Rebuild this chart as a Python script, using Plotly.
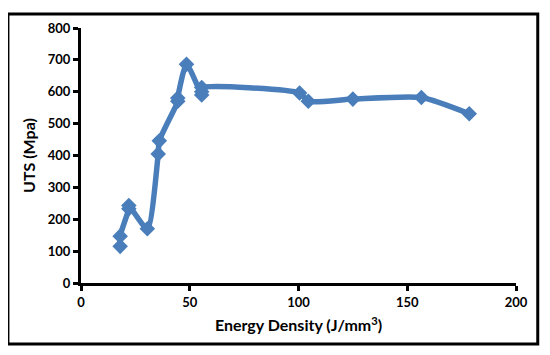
import plotly.graph_objects as go

energy_density = [18, 18, 22, 22, 30.5, 35.5, 36, 44.5, 44.5, 48.5, 55.5, 55.5, 55.5, 100.5, 104.5, 125, 156.5, 178.5]
uts = [115, 147, 233, 243, 170, 405, 446, 570, 580, 686, 590, 600, 613, 596, 570, 577, 582, 531]

x_ticks = [0, 50, 100, 150, 200]
y_ticks = [0, 100, 200, 300, 400, 500, 600, 700, 800]

blue = "#4A7EBB"
font_family = "Lato, 'Open Sans', sans-serif"

fig = go.Figure()
fig.add_trace(go.Scatter(
    x=energy_density, y=uts, mode="lines+markers",
    line=dict(color=blue, width=5.5, shape="spline", smoothing=0.6),
    marker=dict(symbol="diamond", size=12, color=blue),
    showlegend=False, cliponaxis=False,
))

axis_common = dict(
    showline=True, linecolor="black", linewidth=3, showgrid=False, zeroline=False,
    ticks="outside", ticklen=5, tickwidth=3, tickcolor="black",
    tickfont=dict(family=font_family, size=13, color="black", weight="bold"),
)

fig.update_xaxes(range=[0, 200], tickvals=x_ticks, **axis_common,
                 title=dict(text="Energy Density (J/mm<sup>3</sup>)",
                            font=dict(family=font_family, size=16, color="black", weight="bold"),
                            standoff=12))
fig.update_yaxes(range=[0, 800], tickvals=y_ticks, **axis_common,
                 title=dict(text="UTS (Mpa)",
                            font=dict(family=font_family, size=16, color="black", weight="bold"),
                            standoff=9))

fig.add_shape(type="rect", xref="paper", yref="paper",
              x0=-0.168, x1=1.05, y0=-0.239, y1=1.055,
              line=dict(color="black", width=3), fillcolor="rgba(0,0,0,0)")

fig.update_layout(
    width=542, height=347,
    margin=dict(l=73, r=34, t=16, b=72),
    paper_bgcolor="white", plot_bgcolor="white",
)

fig.write_html("out.html")
